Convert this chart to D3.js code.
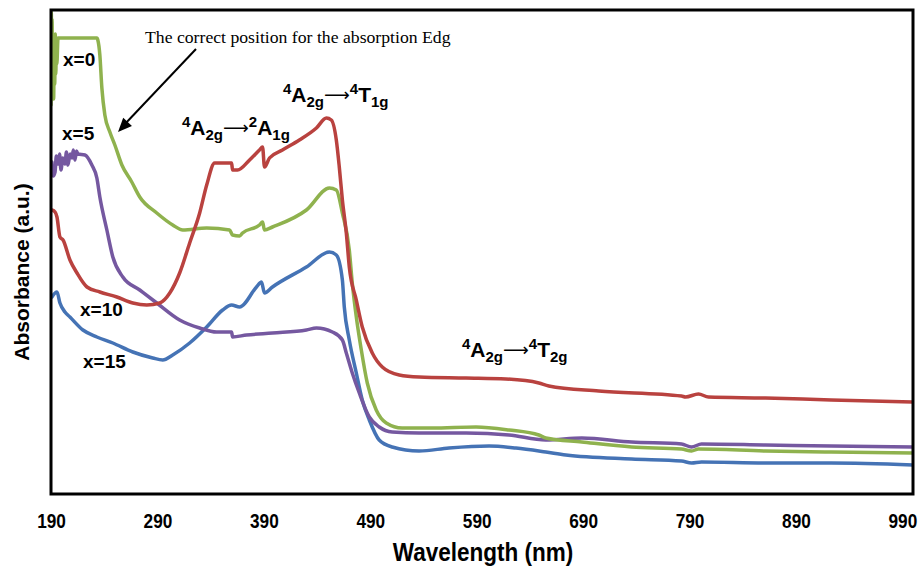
<!DOCTYPE html>
<html>
<head>
<meta charset="utf-8">
<script src="https://cdn.jsdelivr.net/npm/d3@7"></script>
<style>
  html, body { margin: 0; padding: 0; background: #fff; }
  svg { display: block; }
</style>
</head>
<body>
<svg id="chart" width="920" height="566"></svg>
<script>
// ---------------- DATA ----------------
const xTicks = [190, 290, 390, 490, 590, 690, 790, 890, 990];

// x = 0 (green)
const x0Wavelength = [190, 190.3, 190.6, 191, 191.5, 192, 192.5, 193, 193.5, 194, 194.5, 195, 195.5, 196.6, 233.1, 234, 235.9, 237.8, 240.6, 245.3, 250, 256.6, 265.9, 273.4, 289.4, 304.4, 313.8, 336.3, 357.8, 360.6, 367.2, 370, 385.9, 388.8, 390.6, 398.1, 430, 451.6, 458.1, 463.8, 470.3, 473.1, 476.9, 481.6, 487.2, 495.6, 505, 520, 548.1, 589.4, 620.3, 648.4, 655, 688.8, 735.6, 782.5, 791.9, 798.4, 861.3, 923.1, 1000];
const x0Absorbance = [3.89, 4.82, 4.30, 4.75, 4.00, 4.40, 3.95, 4.50, 4.10, 4.60, 4.20, 4.45, 4.30, 4.56, 4.56, 4.54, 4.39, 4.06, 3.79, 3.62, 3.49, 3.29, 3.12, 2.97, 2.81, 2.69, 2.64, 2.66, 2.64, 2.59, 2.58, 2.61, 2.69, 2.72, 2.64, 2.67, 2.84, 3.06, 3.04, 2.81, 2.44, 2.11, 1.77, 1.44, 1.11, 0.84, 0.71, 0.66, 0.66, 0.67, 0.64, 0.59, 0.56, 0.52, 0.47, 0.45, 0.43, 0.45, 0.43, 0.42, 0.41];

// x = 5 (purple)
const x5Wavelength = [190.9, 192, 193.8, 195, 196.6, 198, 199.4, 201, 203.1, 204.5, 205.9, 208, 209.7, 211, 212.5, 214, 215.3, 221.9, 228.4, 233.1, 235.9, 242.5, 248.1, 257.5, 273.4, 289.4, 310.9, 329.7, 345.6, 359.7, 360.6, 373.8, 398.1, 430, 439.4, 454.4, 463.8, 467.5, 473.1, 479.7, 489.1, 498.4, 510.6, 535.9, 580, 620.3, 655, 688.8, 735.6, 782.5, 791.9, 801.3, 861.3, 923.1, 1000];
const x5Absorbance = [3.32, 3.18, 3.22, 3.38, 3.30, 3.40, 3.24, 3.36, 3.30, 3.42, 3.29, 3.40, 3.36, 3.44, 3.34, 3.43, 3.40, 3.39, 3.29, 3.16, 2.97, 2.64, 2.37, 2.17, 2.04, 1.91, 1.74, 1.66, 1.62, 1.62, 1.57, 1.59, 1.61, 1.64, 1.66, 1.62, 1.54, 1.41, 1.21, 1.01, 0.77, 0.67, 0.62, 0.61, 0.61, 0.59, 0.54, 0.56, 0.52, 0.50, 0.47, 0.50, 0.49, 0.48, 0.47];

// x = 10 (red)
const x10Wavelength = [190.9, 193.8, 195.6, 198.4, 201.3, 207.8, 214.4, 223.8, 235.9, 251.9, 266.9, 280, 292.2, 301.6, 310.9, 320.3, 329.7, 336.3, 343.8, 359.7, 360.6, 365.3, 376.6, 385.9, 388.8, 390.6, 395.3, 407.5, 423.4, 439.4, 448.8, 453.4, 458.1, 460.9, 463.8, 467.5, 470.3, 476.9, 482.5, 491.9, 501.3, 517.2, 535.9, 580, 617.5, 648.4, 657.8, 704.7, 782.5, 786.3, 798.4, 807.8, 861.3, 923.1, 1000];
const x10Absorbance = [2.84, 2.82, 2.77, 2.57, 2.54, 2.34, 2.21, 2.07, 2.02, 1.97, 1.91, 1.89, 1.91, 2.01, 2.21, 2.51, 2.81, 3.09, 3.31, 3.31, 3.24, 3.24, 3.34, 3.44, 3.47, 3.27, 3.36, 3.44, 3.54, 3.66, 3.76, 3.74, 3.54, 3.27, 2.94, 2.61, 2.27, 1.94, 1.67, 1.41, 1.27, 1.19, 1.17, 1.16, 1.15, 1.11, 1.08, 1.03, 0.98, 0.97, 1.00, 0.97, 0.96, 0.94, 0.92];

// x = 15 (blue)
const x15Wavelength = [190.9, 195.6, 198.4, 203.1, 207.8, 220, 233.1, 248.1, 266.9, 285.6, 295, 304.4, 320.3, 336.3, 351.3, 359.7, 367.2, 383.1, 387.8, 390.6, 398.1, 430, 451.6, 458.1, 463.8, 465.6, 470.3, 476.9, 482.5, 489.1, 498.4, 510.6, 535.9, 564, 601.6, 626.9, 655, 673.8, 735.6, 782.5, 791.9, 801.3, 861.3, 923.1, 1000];
const x15Absorbance = [1.97, 2.02, 1.91, 1.82, 1.77, 1.64, 1.57, 1.51, 1.42, 1.36, 1.34, 1.39, 1.51, 1.67, 1.84, 1.89, 1.87, 2.07, 2.12, 2.01, 2.07, 2.27, 2.42, 2.39, 2.14, 1.87, 1.54, 1.21, 0.94, 0.74, 0.54, 0.47, 0.43, 0.46, 0.48, 0.46, 0.42, 0.39, 0.35, 0.33, 0.31, 0.32, 0.31, 0.31, 0.29];

const seriesNames = ["x=0", "x=5", "x=10", "x=15"];
const seriesColors = ["#8fb24e", "#7558a0", "#b9423f", "#4573b5"];

// ---------------- CHART ----------------
const svg = d3.select("#chart");
const plot = { left: 51, top: 10, right: 913, bottom: 494 };

const x = d3.scaleLinear().domain([190, 1000]).range([plot.left, plot.right]);
const y = d3.scaleLinear().domain([0, 4.84]).range([plot.bottom, plot.top]);

const series = [
  { wl: x0Wavelength, ab: x0Absorbance },
  { wl: x5Wavelength, ab: x5Absorbance },
  { wl: x10Wavelength, ab: x10Absorbance },
  { wl: x15Wavelength, ab: x15Absorbance }
].map((s, i) => ({ name: seriesNames[i], color: seriesColors[i], pts: s.wl.map((w, j) => [w, s.ab[j]]) }));

svg.append("clipPath").attr("id", "clip")
  .append("rect").attr("x", plot.left).attr("y", plot.top)
  .attr("width", plot.right - plot.left).attr("height", plot.bottom - plot.top);

const line = d3.line().x(d => x(d[0])).y(d => y(d[1])).curve(d3.curveMonotoneX);

// draw order: blue, purple, green, red (red on top)
const order = [3, 1, 0, 2];
svg.append("g").attr("clip-path", "url(#clip)")
  .selectAll("path").data(order.map(i => series[i])).join("path")
  .attr("d", d => line(d.pts))
  .attr("fill", "none")
  .attr("stroke", d => d.color)
  .attr("stroke-width", 3.5)
  .attr("stroke-linejoin", "round")
  .attr("stroke-linecap", "round");

// frame
svg.append("rect")
  .attr("x", plot.left).attr("y", plot.top)
  .attr("width", plot.right - plot.left).attr("height", plot.bottom - plot.top)
  .attr("fill", "none").attr("stroke", "#000").attr("stroke-width", 3);

// x axis
const xAxis = d3.axisBottom(x).tickValues(xTicks).tickSize(0).tickPadding(0).tickFormat(d3.format("d"));
const gx = svg.append("g").attr("transform", `translate(0,${plot.bottom})`).call(xAxis);
gx.select(".domain").remove();
gx.selectAll("text")
  .attr("y", 34).attr("dy", null)
  .attr("fill", "#000")
  .style("font-family", "'Liberation Sans Narrow','Arial Narrow','Liberation Sans',Arial,sans-serif")
  .style("font-weight", "bold")
  .style("font-size", "21px")
  .attr("transform", "scale(0.82,1)");

// axis titles
svg.append("text")
  .attr("transform", "translate(483,561) scale(0.9,1)")
  .attr("text-anchor", "middle")
  .style("font-family", "'Liberation Sans Narrow','Arial Narrow','Liberation Sans',Arial,sans-serif")
  .style("font-weight", "bold").style("font-size", "25px")
  .text("Wavelength (nm)");

svg.append("text")
  .attr("transform", "translate(29,272) rotate(-90)")
  .attr("text-anchor", "middle")
  .style("font-family", "'Liberation Sans',Arial,sans-serif")
  .style("font-weight", "bold").style("font-size", "21px")
  .text("Absorbance (a.u.)");

// series labels
const labelFont = "'Liberation Sans',Arial,sans-serif";
const seriesLabelPos = [[63, 66], [62, 140], [80, 316], [83, 368]];
svg.append("g").selectAll("text").data(seriesNames).join("text")
  .attr("x", (d, i) => seriesLabelPos[i][0])
  .attr("y", (d, i) => seriesLabelPos[i][1])
  .style("font-family", labelFont).style("font-weight", "bold").style("font-size", "19px")
  .text(d => d);

// transition labels
function transLabel(x0, y0, parts) {
  const t = svg.append("text").attr("x", x0).attr("y", y0)
    .style("font-family", labelFont).style("font-weight", "bold");
  let offset = 0;
  parts.forEach(([txt, kind]) => {
    let target = 0, size = 21, weight = "bold", fam = null;
    if (kind === "sup") { target = -8; size = 15; }
    if (kind === "sub") { target = 5; size = 15; }
    if (kind === "arrow") { target = -1; size = 18; weight = "normal"; fam = "'DejaVu Sans',sans-serif"; }
    const ts = t.append("tspan").attr("dy", target - offset)
      .style("font-size", size + "px").style("font-weight", weight).text(txt);
    if (fam) ts.style("font-family", fam);
    offset = target;
  });
}
transLabel(182, 135, [["4", "sup"], ["A", "main"], ["2g", "sub"], ["\u27F6", "arrow"], ["2", "sup"], ["A", "main"], ["1g", "sub"]]);
transLabel(283, 102, [["4", "sup"], ["A", "main"], ["2g", "sub"], ["\u27F6", "arrow"], ["4", "sup"], ["T", "main"], ["1g", "sub"]]);
transLabel(462, 357, [["4", "sup"], ["A", "main"], ["2g", "sub"], ["\u27F6", "arrow"], ["4", "sup"], ["T", "main"], ["2g", "sub"]]);

// annotation
svg.append("text")
  .attr("x", 145).attr("y", 43)
  .style("font-family", "'Liberation Serif','Times New Roman',serif")
  .style("font-size", "17.7px")
  .text("The correct position for the absorption Edg");

const ax1 = 196, ay1 = 49, ax2 = 118, ay2 = 132;
svg.append("line").attr("x1", ax1).attr("y1", ay1).attr("x2", ax2 + 6).attr("y2", ay2 - 7)
  .attr("stroke", "#000").attr("stroke-width", 2);
const ang = Math.atan2(ay2 - ay1, ax2 - ax1);
const hl = 14, hw = 6;
const bx = ax2 - hl * Math.cos(ang), by = ay2 - hl * Math.sin(ang);
svg.append("polygon")
  .attr("points", [
    [ax2, ay2],
    [bx + hw * Math.sin(ang), by - hw * Math.cos(ang)],
    [bx - hw * Math.sin(ang), by + hw * Math.cos(ang)]
  ].map(p => p.join(",")).join(" "))
  .attr("fill", "#000");
</script>
</body>
</html>
